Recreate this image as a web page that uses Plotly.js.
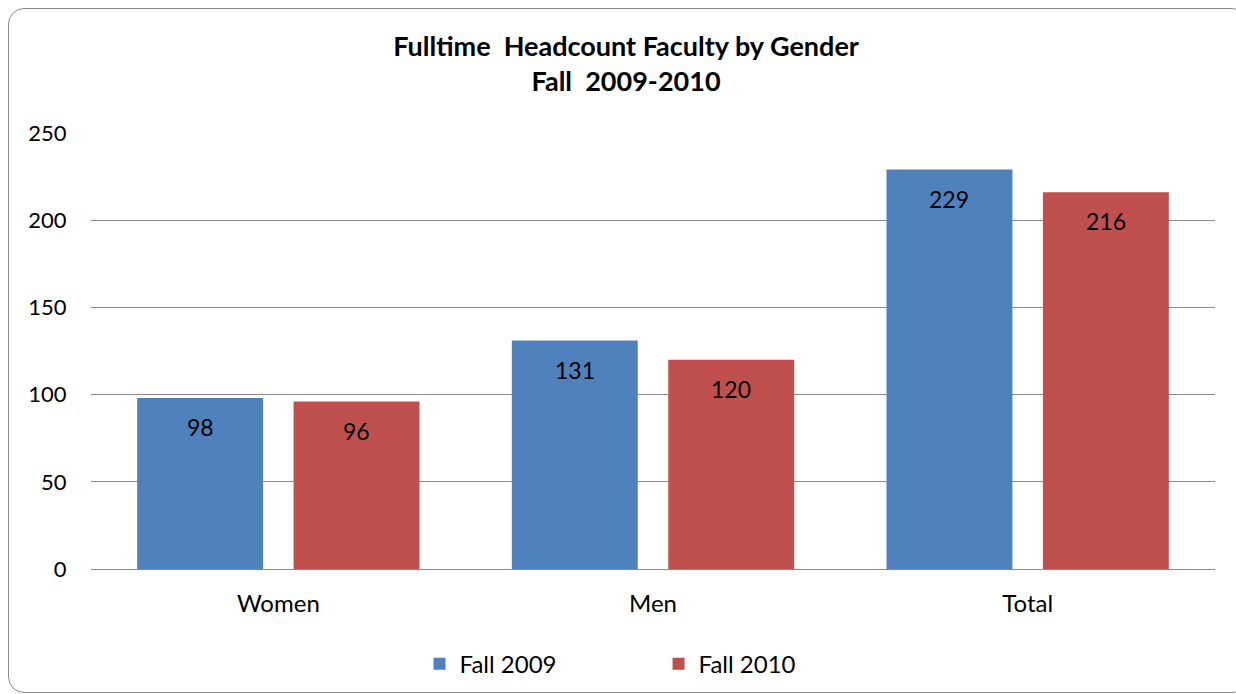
<!DOCTYPE html>
<html>
<head>
<meta charset="utf-8">
<script src="https://cdn.plot.ly/plotly-3.0.1.min.js"></script>
<style>
html,body{margin:0;padding:0;background:#fff;}
#frame{position:absolute;left:8px;top:8px;width:1240px;height:685px;border:1.5px solid #8a8a8a;border-radius:16px;box-sizing:border-box;}
#chart{position:absolute;left:0;top:0;width:1236px;height:694px;}
</style>
</head>
<body>
<div id="frame"></div>
<div id="chart"></div>
<script>
const categories = ["Women", "Men", "Total"];
const fall2009 = [98, 131, 229];
const fall2010 = [96, 120, 216];
const seriesNames = ["Fall 2009", "Fall 2010"];
const yTicks = [0, 50, 100, 150, 200, 250];

const FONT = "Lato, 'Open Sans', sans-serif";
const colors = ["#4F81BD", "#C0504D"];
const seriesData = [fall2009, fall2010];

const traces = seriesData.map((vals, i) => ({
  type: "bar",
  name: seriesNames[i],
  x: categories,
  y: vals,
  marker: {color: colors[i]},
  hoverinfo: "x+y"
}));

// value labels placed via the axes' own data scale, shifted into bar tops
const annotations = [];
const offsets = [-78.25, 78.25];
seriesData.forEach((vals, i) => {
  vals.forEach((v, j) => {
    annotations.push({
      x: categories[j], y: v, xref: "x", yref: "y",
      text: String(v), showarrow: false,
      xshift: offsets[i], yshift: -29,
      font: {family: FONT, size: 23, color: "#000"}
    });
  });
});

const layout = {
  width: 1236, height: 694,
  paper_bgcolor: "rgba(0,0,0,0)",
  plot_bgcolor: "rgba(0,0,0,0)",
  margin: {l: 91, r: 21, t: 133, b: 125},
  title: {
    text: "<b>Fulltime  Headcount Faculty by Gender<br>Fall  2009-2010</b>",
    x: 0.5065, xanchor: "center", xref: "container",
    y: 0.9195, yanchor: "middle", yref: "container",
    font: {family: FONT, size: 27, color: "#000"}
  },
  barmode: "group",
  bargap: 0.165,
  bargroupgap: 0.195,
  xaxis: {
    type: "category",
    showgrid: false, showline: false, zeroline: false,
    ticks: "outside", ticklen: 13, tickcolor: "rgba(0,0,0,0)",
    tickfont: {family: FONT, size: 24, color: "#000"}
  },
  yaxis: {
    range: [0, 250],
    tickvals: yTicks,
    showgrid: true, gridcolor: "#8c8c8c", gridwidth: 1.3,
    zeroline: true, zerolinecolor: "#8c8c8c", zerolinewidth: 1.3,
    showline: false,
    ticks: "outside", ticklen: 19, tickcolor: "rgba(0,0,0,0)",
    tickfont: {family: FONT, size: 22, color: "#000"}
  },
  legend: {
    orientation: "h",
    x: 0.5328, xanchor: "center", xref: "container",
    y: 0.043, yanchor: "middle", yref: "container",
    font: {family: FONT, size: 24, color: "#000"},
    entrywidth: 194,
    itemclick: false
  },
  annotations: annotations,
  showlegend: true
};

Plotly.newPlot("chart", traces, layout, {displayModeBar: false, responsive: false});
</script>
</body>
</html>
